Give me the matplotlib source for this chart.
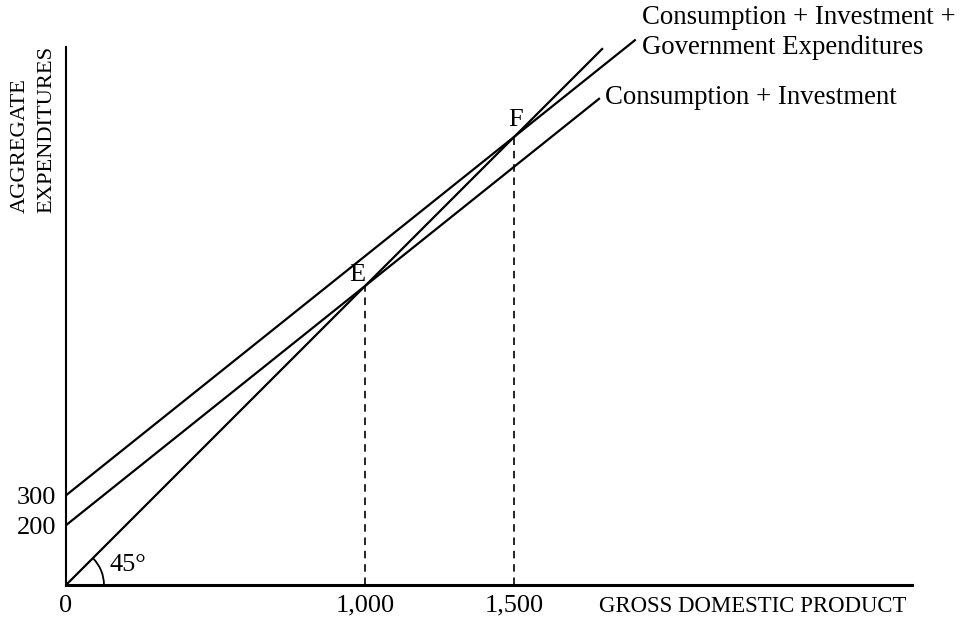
import matplotlib
matplotlib.use("Agg")
import matplotlib.pyplot as plt
from matplotlib.patches import Arc

# ---- data ----
gdp_ticks = [0, 1000, 1500]
gdp_tick_labels = ["0", "1,000", "1,500"]
ae_ticks = [200, 300]
ae_tick_labels = ["200", "300"]

line45_x = [0, 1796]
line45_y = [0, 1796]
ci_x = [0, 1786]
ci_y = [200, 1629]
cig_x = [0, 1906]
cig_y = [300, 1825]

eq_gdp = [1000, 1500]
eq_ae = [1000, 1500]
eq_labels = ["E", "F"]

SERIF = ["Liberation Serif", "DejaVu Serif"]
W, H = 960, 622

def fx(px):
    return px / W

def fy(py):
    return 1 - py / H

fig = plt.figure(figsize=(9.6, 6.22), dpi=100)
ax = fig.add_axes([fx(66), fy(585), (912 - 66) / W, (585 - 47) / H])
ax.set_xlim(0, 2830)
ax.set_ylim(0, 1800)

for s in ["top", "right"]:
    ax.spines[s].set_visible(False)
ax.spines["left"].set_linewidth(1.5)
ax.spines["bottom"].set_linewidth(2.2)

ax.set_xticks(gdp_ticks)
ax.set_xticklabels(gdp_tick_labels, family=SERIF, fontsize=19)
ax.set_yticks(ae_ticks)
ax.set_yticklabels(ae_tick_labels, family=SERIF, fontsize=19)
ax.tick_params(axis="x", length=0, pad=7)
ax.tick_params(axis="y", length=0, pad=7)

lw = 1.6
ax.plot(line45_x, line45_y, color="black", lw=lw, clip_on=False, solid_capstyle="butt")
ax.plot(ci_x, ci_y, color="black", lw=lw, clip_on=False, solid_capstyle="butt")
ax.plot(cig_x, cig_y, color="black", lw=lw, clip_on=False, solid_capstyle="butt")

# dashed drop lines from equilibria
for gx, gy in zip(eq_gdp, eq_ae):
    ax.plot([gx, gx], [0, gy], color="black", lw=1.2,
            linestyle=(0, (4.5, 3.5)), clip_on=False)

offsets = [(-8, 11), (1, 17)]
for gx, gy, lab, off in zip(eq_gdp, eq_ae, eq_labels, offsets):
    ax.annotate(lab, (gx, gy), xytext=off, textcoords="offset pixels",
                ha="center", va="center", family=SERIF, fontsize=19)

# 45 degree arc
r = 127
ax.add_patch(Arc((0, 0), 2 * r, 2 * r, theta1=0, theta2=45, color="black", lw=1.3))
fig.text(fx(110), fy(565), "45°", family=SERIF, fontsize=19, ha="left", va="center")

# line labels
fig.text(fx(642), fy(18), "Consumption + Investment +", family=SERIF, fontsize=19.3,
         ha="left", va="center")
fig.text(fx(642), fy(47), "Government Expenditures", family=SERIF, fontsize=19.3,
         ha="left", va="center")
fig.text(fx(605), fy(97), "Consumption + Investment", family=SERIF, fontsize=19.3,
         ha="left", va="center")

# axis titles
fig.text(fx(599), fy(606), "GROSS DOMESTIC PRODUCT", family=SERIF, fontsize=16.4,
         ha="left", va="center")
fig.text(fx(20), fy(213), "AGGREGATE", family=SERIF, fontsize=16.2,
         rotation=90, ha="center", va="bottom")
fig.text(fx(47), fy(213), "EXPENDITURES", family=SERIF, fontsize=16.2,
         rotation=90, ha="center", va="bottom")

fig.savefig("out.png", dpi=100, facecolor="white")
